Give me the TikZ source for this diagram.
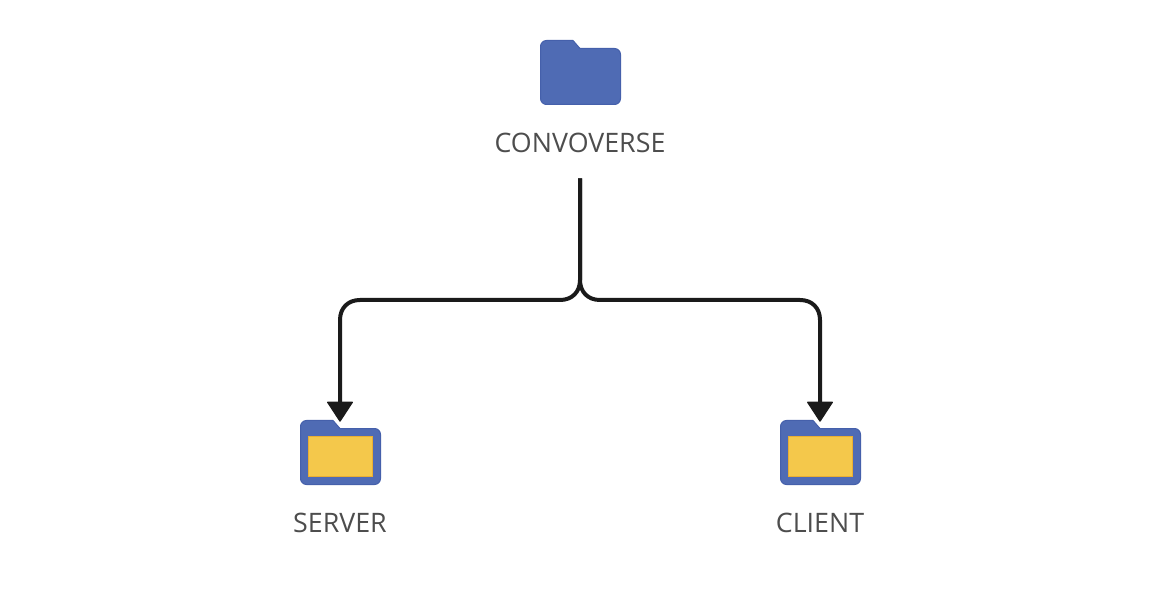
\documentclass[tikz,border=0pt]{standalone}
\usepackage{fontspec}
\setmainfont{Open Sans}
\usetikzlibrary{arrows.meta,positioning}
\definecolor{folderblue}{HTML}{4F6BB4}
\definecolor{folderedge}{HTML}{4560AB}
\definecolor{docyellow}{HTML}{F4C84B}
\definecolor{docedge}{HTML}{E9AE33}
\definecolor{labelgray}{HTML}{4D4D4D}
\definecolor{linkblack}{HTML}{1A1A1A}
\newcommand{\folderoutline}{%
	\filldraw[fill=folderblue, draw=folderedge, line width=0.75pt]
		(-39.5,-26) .. controls (-39.5,-29.3) and (-36.8,-32) .. (-33.5,-32)
		-- (-7,-32) -- (0,-24) -- (34.5,-24)
		.. controls (37.8,-24) and (40.5,-21.3) .. (40.5,-18) -- (40.5,26)
		.. controls (40.5,29.3) and (37.8,32) .. (34.5,32) -- (-33.5,32)
		.. controls (-36.8,32) and (-39.5,29.3) .. (-39.5,26) -- cycle;}
\tikzset{>={Triangle[width=20pt,length=15.5pt,round,line width=1pt]},
	folder/.style={minimum width=61.5pt, minimum height=48.75pt, inner sep=0pt,
		path picture={\folderoutline}},
	docbox/.style={fill=docyellow, draw=docedge, line width=0.75pt, inner sep=0pt,
		minimum width=48pt, minimum height=30.5pt},
	dirlabel/.style={text=labelgray, font=\fontsize{20.1pt}{24pt}\selectfont, inner sep=0pt,
		minimum height=52.5pt},
	link/.style={->, draw=linkblack, line width=3pt, shorten >=-1.5pt}}
\begin{document}
\begin{tikzpicture}[x=0.75pt, y=-0.75pt]
	\useasboundingbox (0,0) rectangle (1160,616);

	\node (convoverse) [folder] at (580,72.5) {};
	\node (server) [folder] at (340,452.5) {};
	\node (client) [folder] at (820,452.5) {};
	\node (serverdoc) [docbox] at ([xshift=0.375pt,yshift=-3pt]server.center) {};
	\node (clientdoc) [docbox] at ([xshift=0.375pt,yshift=-3pt]client.center) {};

	\node (convoverselabel) [dirlabel] at (580,143) {CONVOVERSE};
	\node (serverlabel) [dirlabel] at (340,523) {SERVER};
	\node (clientlabel) [dirlabel] at (820,523) {CLIENT};

	\draw[link] (convoverselabel.south) -- (580,280)
		.. controls (580,292) and (572,300) .. (560,300) -- (360,300)
		.. controls (348,300) and (340,308) .. (340,320) -- (server.north);
	\draw[link] (convoverselabel.south) -- (580,280)
		.. controls (580,292) and (588,300) .. (600,300) -- (800,300)
		.. controls (812,300) and (820,308) .. (820,320) -- (client.north);
\end{tikzpicture}
\end{document}
